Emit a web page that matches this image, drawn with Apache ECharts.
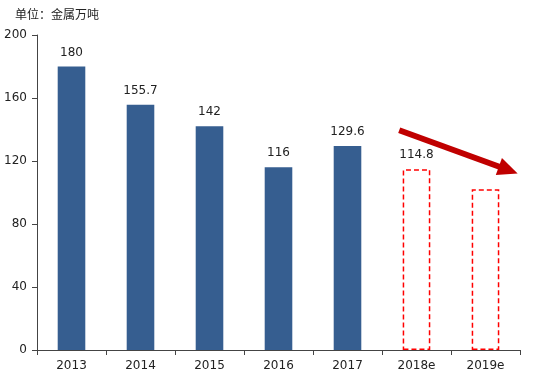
<!DOCTYPE html>
<html><head><meta charset="utf-8">
<script src="https://cdn.jsdelivr.net/npm/echarts@6/dist/echarts.min.js"></script>
<style>html,body{margin:0;padding:0;background:#fff}#c{width:536px;height:380px}</style>
</head><body><div id="c"></div>
<script>
var categories = ['2013','2014','2015','2016','2017','2018e','2019e'];
var values = [180, 155.7, 142, 116, 129.6, 114.8, 102];
var forecast = [false, false, false, false, false, true, true];
var showLabel = [true, true, true, true, true, true, false];
var yTicks = [0, 40, 80, 120, 160, 200];
var arrowFrom = [5.25, 139.5];
var arrowTo = [6.83, 114.3];

var chart = echarts.init(document.getElementById('c'));
var data = values.map(function(v, i){
  var d = {value: v, label: {show: showLabel[i]}};
  if (forecast[i]) {
    d.itemStyle = {color: 'rgba(0,0,0,0)', borderColor: '#FF0000', borderWidth: 1.5, borderType: [5, 3]};
  }
  return d;
});
chart.setOption({
  animation: false,
  title: {text: '单位：金属万吨', left: 10, top: 3,
    textStyle: {fontFamily: 'Noto Sans CJK SC', fontSize: 12, fontWeight: 'normal', color: '#222'}},
  grid: {left: 37, right: 16, top: 35, bottom: 30},
  xAxis: [{
    type: 'category', data: categories,
    axisLine: {lineStyle: {color: '#444', width: 1}},
    axisTick: {show: true, length: 5, lineStyle: {color: '#444'}},
    axisLabel: {fontFamily: 'DejaVu Sans', fontSize: 12, color: '#222', margin: 10}
  }, {
    type: 'value', min: 0, max: 7, show: false
  }],
  yAxis: [{
    type: 'value', min: yTicks[0], max: yTicks[yTicks.length-1], interval: 40,
    axisLine: {show: true, lineStyle: {color: '#444', width: 1}},
    axisTick: {show: true, length: 5, lineStyle: {color: '#444'}},
    splitLine: {show: false},
    axisLabel: {fontFamily: 'DejaVu Sans', fontSize: 12, color: '#222', margin: 10}
  }],
  series: [{
    type: 'bar', data: data, barWidth: '40%',
    itemStyle: {color: '#365E90'},
    label: {position: 'top', distance: 8, fontFamily: 'DejaVu Sans', fontSize: 12, color: '#222'}
  }, {
    type: 'line', xAxisIndex: 1, yAxisIndex: 0, data: [], symbol: 'none',
    markLine: {
      silent: true, symbol: ['none', 'triangle'], symbolSize: [18, 20],
      lineStyle: {color: '#C00000', width: 6, type: 'solid'},
      label: {show: false},
      data: [[{coord: arrowFrom}, {coord: arrowTo}]]
    }
  }]
});
</script></body></html>
